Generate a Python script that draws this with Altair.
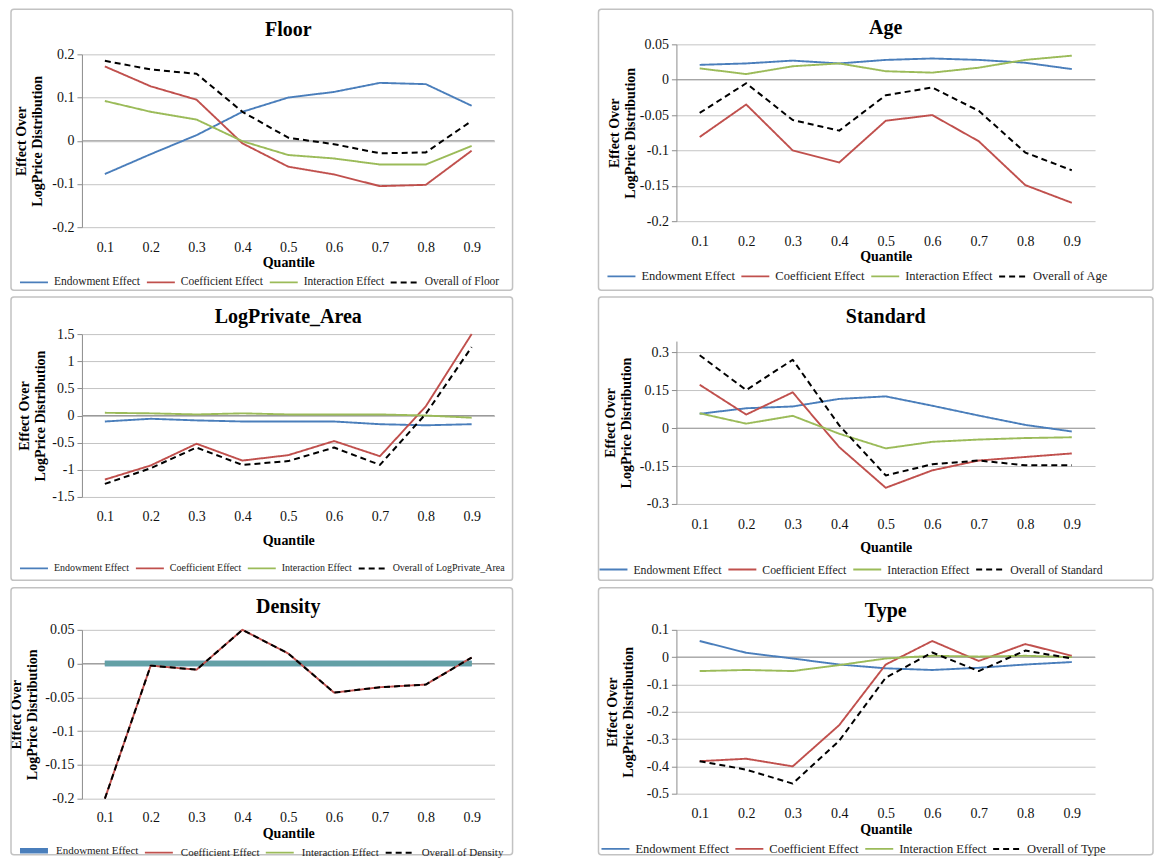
import altair as alt
import pandas as pd

quantiles = ["0.1", "0.2", "0.3", "0.4", "0.5", "0.6", "0.7", "0.8", "0.9"]
effect_names = ["Endowment Effect", "Coefficient Effect", "Interaction Effect"]

floor_endow = [-0.077, -0.031, 0.013, 0.067, 0.100, 0.113, 0.134, 0.131, 0.081]
floor_coef = [0.172, 0.126, 0.095, -0.006, -0.060, -0.078, -0.105, -0.102, -0.023]
floor_inter = [0.092, 0.067, 0.049, -0.001, -0.033, -0.041, -0.055, -0.055, -0.012]
floor_overall = [0.185, 0.165, 0.155, 0.067, 0.007, -0.008, -0.029, -0.027, 0.046]

age_endow = [0.021, 0.023, 0.027, 0.023, 0.028, 0.030, 0.028, 0.024, 0.015]
age_coef = [-0.081, -0.035, -0.100, -0.117, -0.058, -0.050, -0.087, -0.149, -0.174]
age_inter = [0.016, 0.008, 0.019, 0.023, 0.012, 0.010, 0.017, 0.028, 0.034]
age_overall = [-0.047, -0.005, -0.057, -0.072, -0.022, -0.011, -0.044, -0.103, -0.128]

area_endow = [-0.11, -0.06, -0.09, -0.11, -0.11, -0.11, -0.16, -0.18, -0.16]
area_coef = [-1.18, -0.92, -0.52, -0.83, -0.73, -0.47, -0.75, 0.17, 1.50]
area_inter = [0.05, 0.04, 0.02, 0.04, 0.02, 0.02, 0.02, 0.00, -0.04]
area_overall = [-1.26, -0.97, -0.59, -0.91, -0.84, -0.59, -0.91, 0.03, 1.26]

std_endow = [0.057, 0.079, 0.086, 0.116, 0.126, 0.089, 0.050, 0.013, -0.013]
std_coef = [0.172, 0.054, 0.142, -0.075, -0.236, -0.167, -0.128, -0.114, -0.100]
std_inter = [0.059, 0.018, 0.049, -0.022, -0.080, -0.054, -0.045, -0.039, -0.036]
std_overall = [0.289, 0.151, 0.271, 0.011, -0.187, -0.143, -0.128, -0.147, -0.147]

dens_endow = [0.0, 0.0, 0.0, 0.0, 0.0, 0.0, 0.0, 0.0, 0.0]
dens_coef = [-0.200, -0.003, -0.009, 0.050, 0.015, -0.043, -0.035, -0.031, 0.009]
dens_inter = [0.0, 0.0, 0.0, 0.0, 0.0, 0.0, 0.0, 0.0, 0.0]
dens_overall = [-0.200, -0.003, -0.009, 0.050, 0.015, -0.043, -0.035, -0.031, 0.009]

type_endow = [0.059, 0.016, -0.005, -0.027, -0.041, -0.047, -0.039, -0.027, -0.018]
type_coef = [-0.381, -0.372, -0.400, -0.249, -0.027, 0.059, -0.014, 0.048, 0.005]
type_inter = [-0.051, -0.047, -0.051, -0.029, -0.005, 0.005, 0.002, 0.005, 0.000]
type_overall = [-0.381, -0.412, -0.463, -0.306, -0.075, 0.017, -0.051, 0.024, -0.005]

floor_ticks = [-0.2, -0.1, 0, 0.1, 0.2]
age_ticks = [-0.2, -0.15, -0.1, -0.05, 0, 0.05]
area_ticks = [-1.5, -1, -0.5, 0, 0.5, 1, 1.5]
std_ticks = [-0.3, -0.15, 0, 0.15, 0.3]
dens_ticks = [-0.2, -0.15, -0.1, -0.05, 0, 0.05]
type_ticks = [-0.5, -0.4, -0.3, -0.2, -0.1, 0, 0.1]

SERIF = "Liberation Serif"
BLUE, RED, GREEN, BLACK = "#4a7ebb", "#c0504d", "#9bbb59", "#000000"
TEAL = "#63a0a6"

LEFT_W, RIGHT_W = 413, 419
LEFT_FR = (-71, 431)
RIGHT_FR = (-78, 477)

# layout parameters: H = plot height, top = visible plot top inside the view,
# fy = frame top/bottom, ty = title centre, leg = (x, y, font size),
# ypad = y-axis title padding
left_panels = [
    dict(name="Floor", data=(floor_endow, floor_coef, floor_inter, floor_overall),
         ydom=[-0.2, 0.2], ticks=floor_ticks, W=LEFT_W, H=183, top=10, fx=LEFT_FR,
         fy=(-35, 246), ty=-14.75, leg=(-56, 230, 11.5), lpad=13, tpad=1, ypad=7,
         thick=False),
    dict(name="LogPrivate_Area", data=(area_endow, area_coef, area_inter, area_overall),
         ydom=[-1.5, 1.5], ticks=area_ticks, W=LEFT_W, H=163, top=0, fx=LEFT_FR,
         fy=(-37, 246.5), ty=-17.5, leg=(-56, 226.5, 10), lpad=13, tpad=10, ypad=4,
         thick=False),
    dict(name="Density", data=(dens_endow, dens_coef, dens_inter, dens_overall),
         ydom=[-0.2, 0.05], ticks=dens_ticks, W=LEFT_W, H=169, top=0, fx=LEFT_FR,
         fy=(-42, 225), ty=-22.5, leg=(-58, 211, 11), lpad=12, tpad=2, ypad=5,
         thick=True),
]
right_panels = [
    dict(name="Age", data=(age_endow, age_coef, age_inter, age_overall),
         ydom=[-0.2, 0.05], ticks=age_ticks, W=RIGHT_W, H=177, top=0, fx=RIGHT_FR,
         fy=(-35, 246), ty=-16.75, leg=(-63, 224, 12.5), lpad=13, tpad=1, ypad=2,
         thick=False),
    dict(name="Standard", data=(std_endow, std_coef, std_inter, std_overall),
         ydom=[-0.3, 0.345], ticks=std_ticks, W=RIGHT_W, H=163, top=0, fx=RIGHT_FR,
         fy=(-44, 239.5), ty=-24.5, leg=(-71, 220.5, 11.75), lpad=14, tpad=9, ypad=6,
         thick=False),
    dict(name="Type", data=(type_endow, type_coef, type_inter, type_overall),
         ydom=[-0.5, 0.1], ticks=type_ticks, W=RIGHT_W, H=164, top=0, fx=RIGHT_FR,
         fy=(-42, 225), ty=-18.5, leg=(-69, 211, 12.5), lpad=13, tpad=2, ypad=11,
         thick=False),
]


def make_panel(p):
    overall = "Overall of " + p["name"]
    names = effect_names + [overall]
    rows = []
    for nm, vals in zip(names, p["data"]):
        for q, v in zip(quantiles, vals):
            rows.append({"quantile": q, "series": nm, "value": v})
    df = pd.DataFrame(rows)

    widths = [5.5, 1.9, 1.9, 2] if p["thick"] else [1.9, 1.9, 1.9, 2]
    lx, ly, lfs = p["leg"]
    legend = alt.Legend(
        title=None, orient="none", legendX=lx, legendY=ly, direction="horizontal",
        columns=4, symbolType="M-2,0H2", symbolSize=196, labelFont=SERIF,
        labelFontSize=lfs, labelColor="#222222", labelOffset=12, columnPadding=2,
        labelLimit=400,
    )
    yscale = alt.Scale(domain=p["ydom"], nice=False, zero=False,
                       range=[p["H"], p["top"]])
    yaxis = alt.Axis(values=p["ticks"], title=["Effect Over", "LogPrice Distribution"],
                     titlePadding=p["ypad"],
                     labelExpr="replace(format(datum.value, ''), '\u2212', '-')")

    def ydef(field):
        return alt.Y(field + ":Q", scale=yscale, axis=yaxis)

    x = alt.X("quantile:N", sort=quantiles, scale=alt.Scale(domain=quantiles),
              axis=alt.Axis(title="Quantile", labelAngle=0, ticks=False, domain=False,
                            grid=False, labelPadding=p["lpad"], titlePadding=p["tpad"]))
    cscale = alt.Scale(domain=names, range=[BLUE, RED, GREEN, BLACK])
    dscale = alt.Scale(domain=names, range=[[1, 0], [1, 0], [1, 0], [6, 4]])
    wscale = alt.Scale(type="ordinal", domain=names, range=widths)

    def enc(ch):
        return ch.encode(
            x=x, y=ydef("value"),
            color=alt.Color("series:N", scale=cscale, legend=legend, sort=names),
            strokeDash=alt.StrokeDash("series:N", scale=dscale, legend=legend, sort=names),
            strokeWidth=alt.StrokeWidth("series:N", scale=wscale, legend=legend, sort=names),
        )

    zero = alt.Chart(pd.DataFrame({"z": [0.0]})).mark_rule(
        color="#999999", strokeWidth=1).encode(y=ydef("z"))
    layers = [zero]
    if p["thick"]:
        flat = df[df["series"].isin(["Endowment Effect", "Interaction Effect"])]
        under = enc(alt.Chart(flat).mark_line(strokeJoin="round"))
        overlay = alt.Chart(df[df["series"] == "Interaction Effect"]).mark_line(
            color=TEAL, strokeWidth=5.5).encode(x=x, y=ydef("value"))
        top = enc(alt.Chart(df[df["series"].isin(["Coefficient Effect", overall])]).mark_line(
            strokeJoin="round"))
        layers += [under, overlay, top]
    else:
        layers.append(enc(alt.Chart(df).mark_line(strokeJoin="round")))

    title = alt.Chart(pd.DataFrame({"t": [p["name"]]})).mark_text(
        font=SERIF, fontSize=20, fontWeight="bold", color="black", align="center",
        baseline="middle").encode(text="t:N", x=alt.value(p["W"] / 2), y=alt.value(p["ty"]))
    L, R = p["fx"]
    T, B = p["fy"]
    frame = alt.Chart(pd.DataFrame({"f": [0]})).mark_rect(
        fillOpacity=0, stroke="#c2c2c2", strokeWidth=1.5, cornerRadius=3).encode(
        x=alt.value(L), x2=alt.value(R), y=alt.value(T), y2=alt.value(B))
    layers += [title, frame]
    return alt.layer(*layers).properties(width=p["W"], height=p["H"])


def column(ps):
    return alt.vconcat(*[make_panel(p) for p in ps], spacing=5).resolve_scale(
        color="independent", strokeDash="independent", strokeWidth="independent",
        y="independent", x="independent")


chart = alt.hconcat(column(left_panels), column(right_panels), spacing=84).resolve_scale(
    color="independent", strokeDash="independent", strokeWidth="independent",
    y="independent", x="independent"
).properties(
    padding={"left": 1, "top": 0, "right": 0, "bottom": 0}
).configure_view(stroke=None).configure_axis(
    labelFont=SERIF, labelFontSize=14, labelColor="#111111",
    titleFont=SERIF, titleFontSize=14, titleFontWeight="bold", titleColor="#000000",
).configure_axisY(
    gridColor="#c4c4c4", gridWidth=1, domainColor="#8c8c8c", tickColor="#8c8c8c",
    tickSize=5, labelPadding=3, titleLineHeight=16,
).configure_axisX(
    titleFontSize=14,
)

chart.save("out.html", embed_options={"renderer": "svg", "actions": False})
